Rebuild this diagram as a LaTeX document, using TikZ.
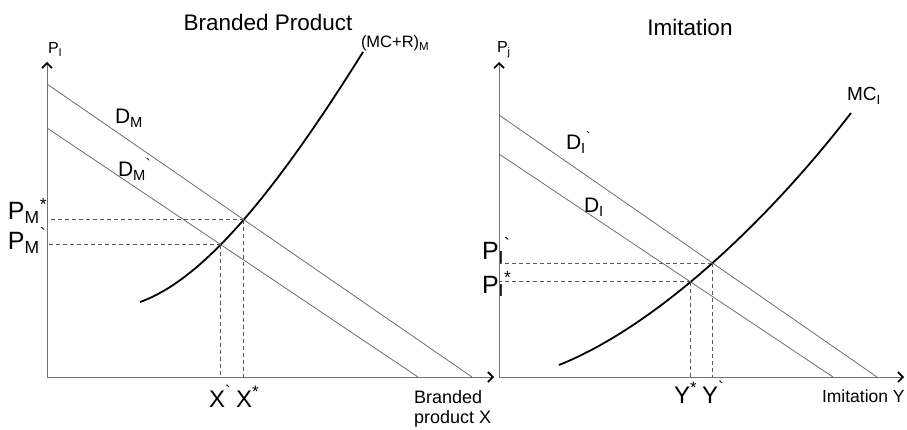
\documentclass[tikz,border=0pt]{standalone}
\usepackage{fontspec}
\setmainfont{Liberation Sans}
\usetikzlibrary{arrows.meta,intersections}
\newcommand\fsz[1]{\fontsize{#1}{#1}\selectfont}
\newcommand\grv{\textasciigrave}
\begin{document}
\begin{tikzpicture}[x=1pt,y=-1pt,
  axis/.style={draw=black!55, line width=1pt, -{Straight Barb[length=5pt,width=10pt,line width=1.6pt,color=black]}},
  demand/.style={draw=black!60, line width=0.75pt},
  mc/.style={draw=black, line width=1.8pt},
  guide/.style={draw=black!65, dash pattern=on 4pt off 3pt, line width=0.8pt},
  lbl/.style={inner sep=0pt, outer sep=0pt}]
\useasboundingbox[fill=white] (0,0) rectangle (907,430);

% ---------- Left panel ----------
\coordinate (O1) at (47,377);
\coordinate (Y1) at (47,62);
\coordinate (X1) at (494,377);
\draw[axis] (O1) -- (Y1);
\draw[axis] (O1) -- (X1);

\draw[demand, name path=dm] (47,84) -- (472,377);
\draw[demand, name path=dmp] (47,128) -- (418,377);
\draw[mc, name path=mcm] (140,302) .. controls (205,279) and (278,188) .. (363,52);
\path[name intersections={of=dm and mcm, by=E1}];
\path[name intersections={of=dmp and mcm, by=E2}];
\draw[guide] (E1) -- (E1 -| O1);
\draw[guide] (E1) -- (E1 |- O1);
\draw[guide] (E2) -- (E2 -| O1);
\draw[guide] (E2) -- (E2 |- O1);

\node[lbl, font=\fsz{22.5}] (t1) at (268,22) {Branded Product};
\node[lbl, font=\fsz{16}, anchor=base west] (py1) at (48,54) {P\textsubscript{I}};
\node[lbl, font=\fsz{16.5}, anchor=base west] (mcl1) at (361,48) {(MC+R)\textsubscript{M}};
\node[lbl, font=\fsz{21}, anchor=base west] (dml) at (115,124) {D\textsubscript{M}};
\node[lbl, font=\fsz{21}, anchor=base west] (dmpl) at (118,177) {D\textsubscript{M}\textsuperscript{\grv}};
\node[lbl, font=\fsz{25}, anchor=base west] (pms) at (8,220) {P\textsubscript{M}\textsuperscript{*}};
\node[lbl, font=\fsz{25}, anchor=base west] (pmp) at (8,250) {P\textsubscript{M}\textsuperscript{\grv}};
\node[lbl, font=\fsz{24}, anchor=base west] (xp) at (209,407) {X\textsuperscript{\grv}};
\node[lbl, font=\fsz{24}, anchor=base west] (xs) at (236,407) {X\textsuperscript{*}};
\node[lbl, font=\fsz{18}, anchor=north west, align=left] (xl) at (414,390) {Branded\\[2pt]product X};

% ---------- Right panel ----------
\coordinate (O2) at (499,377);
\coordinate (Y2) at (499,62);
\coordinate (X2) at (904,377);
\draw[axis] (O2) -- (Y2);
\draw[axis] (O2) -- (X2);

\draw[demand, name path=dip] (499,115) -- (877,377);
\draw[demand, name path=di] (499,154) -- (833,377);
\draw[mc, name path=mci] (559,365) .. controls (659,325) and (771,217) .. (851,113);
\path[name intersections={of=di and mci, by=E3}];
\path[name intersections={of=dip and mci, by=E4}];
\draw[guide] (E3) -- (E3 -| O2);
\draw[guide] (E3) -- (E3 |- O2);
\draw[guide] (E4) -- (E4 -| O2);
\draw[guide] (E4) -- (E4 |- O2);

\node[lbl, font=\fsz{22.5}] (t2) at (690,27) {Imitation};
\node[lbl, font=\fsz{16}, anchor=base west] (py2) at (497,53) {P\textsubscript{j}};
\node[lbl, font=\fsz{19}, anchor=base west] (mcl2) at (847,101) {MC\textsubscript{I}};
\node[lbl, font=\fsz{21}, anchor=base west] (dipl) at (566,150) {D\textsubscript{I}\textsuperscript{\grv}};
\node[lbl, font=\fsz{21}, anchor=base west] (dil) at (584,213) {D\textsubscript{I}};
\node[lbl, font=\fsz{25}, anchor=base west] (pip) at (482,260) {P\textsubscript{I}\textsuperscript{\grv}};
\node[lbl, font=\fsz{25}, anchor=base west] (pis) at (482,293) {P\textsubscript{I}\textsuperscript{*}};
\node[lbl, font=\fsz{24}, anchor=base west] (ys) at (674,403) {Y\textsuperscript{*}};
\node[lbl, font=\fsz{24}, anchor=base west] (yp) at (702,403) {Y\textsuperscript{\grv}};
\node[lbl, font=\fsz{17.5}, anchor=base west] (yl) at (822,402) {Imitation Y};
\end{tikzpicture}
\end{document}
